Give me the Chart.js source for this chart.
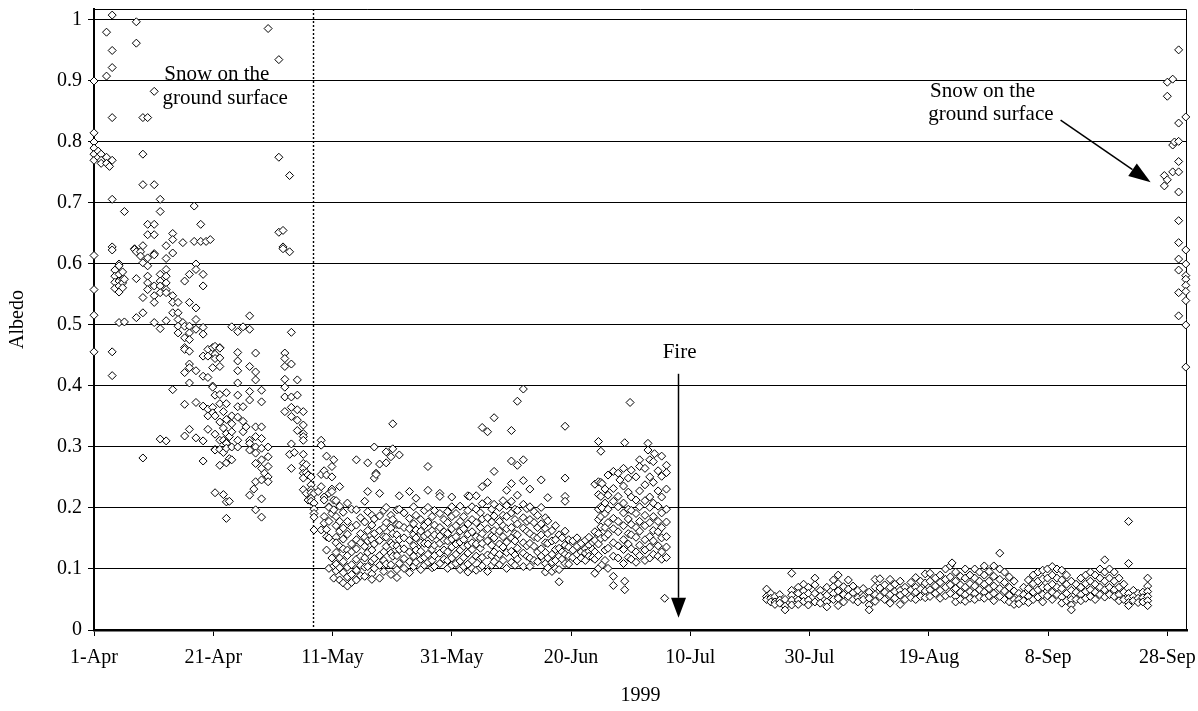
<!DOCTYPE html>
<html>
<head>
<meta charset="utf-8">
<title>Albedo 1999</title>
<script src="https://cdn.jsdelivr.net/npm/chart.js@4.4.1/dist/chart.umd.min.js"></script>
<style>
  html, body { margin: 0; padding: 0; background: #fff; }
  #albedoChart { display: block; }
</style>
</head>
<body>
<canvas id="albedoChart" width="1198" height="711"></canvas>
<script>
// x = days since 1 April 1999, y = albedo
// each group: [day, value, value, ...]
const aprilSnow = [
  [0.0, 0.90, 0.815, 0.80, 0.79, 0.78, 0.77, 0.614, 0.558, 0.516, 0.456],
  [0.7, 0.785, 0.775],
  [1.2, 0.78, 0.77, 0.765],
  [2.1, 0.98, 0.908, 0.775, 0.765],
  [2.6, 0.76],
  [3.05, 1.008, 0.95, 0.922, 0.84, 0.77, 0.706, 0.628, 0.623, 0.456, 0.417],
  [3.5, 0.59, 0.58, 0.57, 0.56],
  [4.2, 0.60, 0.597, 0.583, 0.572, 0.564, 0.554, 0.504],
  [4.8, 0.587, 0.575, 0.569, 0.561],
  [5.1, 0.686, 0.575, 0.505],
  [6.8, 0.625, 0.624],
  [7.1, 0.997, 0.962, 0.62, 0.576, 0.512],
  [7.8, 0.62, 0.613],
  [8.2, 0.84, 0.78, 0.73, 0.63, 0.602, 0.545, 0.52, 0.282],
  [9.0, 0.84, 0.665, 0.648, 0.61, 0.597, 0.58, 0.569, 0.558],
  [10.1, 0.883, 0.73, 0.665, 0.648, 0.617, 0.615, 0.564, 0.548, 0.537, 0.504],
  [11.1, 0.706, 0.686, 0.583, 0.572, 0.564, 0.553, 0.494, 0.313],
  [12.1, 0.63, 0.609, 0.591, 0.58, 0.569, 0.558, 0.553, 0.507, 0.31],
  [13.2, 0.65, 0.64, 0.618, 0.548, 0.537, 0.52, 0.394],
  [14.1, 0.537, 0.52, 0.509, 0.498, 0.487],
  [14.9, 0.635, 0.504],
  [15.2, 0.572, 0.498, 0.479, 0.463, 0.46, 0.422, 0.37, 0.318],
  [16.0, 0.583, 0.537, 0.498, 0.487, 0.476, 0.457, 0.436, 0.43, 0.405, 0.329],
  [16.8, 0.695, 0.637],
  [17.1, 0.60, 0.591, 0.528, 0.509, 0.493, 0.425, 0.373, 0.315],
  [17.9, 0.665, 0.637],
  [18.3, 0.583, 0.564, 0.496, 0.485, 0.449, 0.416, 0.367, 0.31, 0.277],
  [18.8, 0.637],
  [19.1, 0.46, 0.449, 0.414, 0.362, 0.351, 0.329],
  [19.5, 0.64],
  [19.9, 0.463, 0.43, 0.40, 0.398, 0.365, 0.356],
  [20.3, 0.465, 0.452, 0.445, 0.385, 0.351, 0.321, 0.296, 0.295, 0.225],
  [21.1, 0.463, 0.462, 0.446, 0.432, 0.386, 0.371, 0.341, 0.311, 0.296, 0.27],
  [21.7, 0.358, 0.331, 0.311, 0.291, 0.222],
  [22.2, 0.389, 0.371, 0.345, 0.322, 0.307, 0.306, 0.298, 0.274, 0.21, 0.183],
  [22.7, 0.317, 0.281, 0.211],
  [23.1, 0.497, 0.351, 0.338, 0.325, 0.30, 0.279],
  [24.1, 0.489, 0.455, 0.441, 0.425, 0.405, 0.385, 0.366, 0.349, 0.311, 0.30],
  [25.0, 0.497, 0.366, 0.342, 0.325],
  [25.5, 0.333],
  [26.1, 0.515, 0.493, 0.432, 0.391, 0.377, 0.311, 0.306, 0.295, 0.221],
  [26.8, 0.231],
  [27.1, 0.454, 0.423, 0.41, 0.333, 0.317, 0.30, 0.29, 0.273, 0.243, 0.197],
  [28.1, 0.393, 0.374, 0.333, 0.314, 0.298, 0.279, 0.265, 0.246, 0.215, 0.185],
  [28.6, 0.257],
  [29.2, 0.986, 0.30, 0.284, 0.268, 0.251, 0.243],
  [31.0, 0.935, 0.775, 0.652],
  [31.7, 0.655, 0.628, 0.625],
  [32.0, 0.454, 0.445, 0.432, 0.411, 0.398, 0.382, 0.358],
  [32.8, 0.745, 0.62, 0.288],
  [33.1, 0.488, 0.436, 0.382, 0.365, 0.35, 0.305, 0.265],
  [33.6, 0.291],
  [34.1, 0.41, 0.385, 0.361, 0.344, 0.327],
  [35.1, 0.358, 0.336, 0.322, 0.317, 0.311, 0.288, 0.273, 0.265, 0.257, 0.249, 0.23],
  [35.6, 0.271, 0.258, 0.224],
  [35.9, 0.254, 0.213],
  [36.4, 0.251, 0.238, 0.23, 0.225, 0.216, 0.211],
  [36.9, 0.224, 0.208, 0.198, 0.191, 0.185, 0.164],
  [37.6, 0.227],
  [38.1, 0.311, 0.303, 0.255, 0.235, 0.164],
  [38.6, 0.261, 0.218, 0.213, 0.186, 0.175],
  [39.0, 0.285, 0.254, 0.165, 0.153, 0.131],
  [39.4, 0.224, 0.202, 0.201, 0.178, 0.151, 0.101],
  [39.9, 0.268, 0.251, 0.231, 0.227, 0.191, 0.118],
  [40.2, 0.279, 0.213, 0.197, 0.105, 0.085]
];

const summerBeforeFire = [
  [40.6, 0.212, 0.186, 0.171, 0.152, 0.143, 0.127, 0.108, 0.097],
  [41.2, 0.235, 0.203, 0.178, 0.162, 0.137, 0.118, 0.102, 0.082],
  [41.8, 0.193, 0.167, 0.149, 0.133, 0.112, 0.094, 0.077],
  [42.5, 0.208, 0.178, 0.157, 0.131, 0.122, 0.103, 0.087, 0.072],
  [43.2, 0.198, 0.168, 0.141, 0.128, 0.107, 0.091, 0.078],
  [44.0, 0.279, 0.197, 0.172, 0.148, 0.133, 0.116, 0.098, 0.082],
  [44.7, 0.184, 0.158, 0.143, 0.121, 0.106, 0.089],
  [45.4, 0.211, 0.177, 0.152, 0.137, 0.118, 0.103, 0.088],
  [45.9, 0.274, 0.227, 0.194, 0.163, 0.146, 0.127, 0.104],
  [46.6, 0.188, 0.172, 0.148, 0.131, 0.113, 0.092, 0.083],
  [47.0, 0.30, 0.249, 0.182, 0.158, 0.141, 0.117, 0.101],
  [47.3, 0.257, 0.255],
  [47.9, 0.272, 0.224, 0.187, 0.163, 0.147, 0.122, 0.106, 0.085],
  [48.6, 0.196, 0.168, 0.153, 0.128, 0.114, 0.096],
  [49.0, 0.292, 0.274, 0.201, 0.176, 0.152, 0.137, 0.108],
  [49.8, 0.284, 0.188, 0.167, 0.143, 0.126, 0.107, 0.091],
  [50.1, 0.338, 0.297, 0.181, 0.158, 0.139, 0.121],
  [50.8, 0.197, 0.173, 0.156, 0.138, 0.122, 0.099, 0.086],
  [51.2, 0.287, 0.22, 0.198, 0.172, 0.148, 0.132, 0.109],
  [52.0, 0.192, 0.168, 0.151, 0.133, 0.117, 0.101],
  [52.9, 0.227, 0.183, 0.166, 0.147, 0.128, 0.112, 0.094],
  [53.6, 0.202, 0.174, 0.157, 0.138, 0.121, 0.104],
  [54.0, 0.216, 0.188, 0.164, 0.151, 0.131, 0.111],
  [54.8, 0.181, 0.162, 0.143, 0.129, 0.116, 0.099],
  [55.4, 0.196, 0.171, 0.154, 0.142, 0.119, 0.106],
  [56.0, 0.268, 0.229, 0.201, 0.177, 0.158, 0.141, 0.124, 0.111],
  [56.7, 0.186, 0.163, 0.152, 0.132, 0.114, 0.102],
  [57.1, 0.196, 0.172, 0.156, 0.139, 0.122, 0.104],
  [58.0, 0.224, 0.219, 0.191, 0.168, 0.154, 0.142, 0.126, 0.109],
  [58.7, 0.181, 0.161, 0.147, 0.131, 0.116],
  [59.3, 0.194, 0.176, 0.158, 0.146, 0.128, 0.114, 0.101],
  [60.0, 0.218, 0.202, 0.186, 0.166, 0.149, 0.136, 0.118, 0.106],
  [60.7, 0.191, 0.171, 0.153, 0.141, 0.124, 0.109],
  [61.4, 0.203, 0.178, 0.162, 0.144, 0.131, 0.113, 0.099],
  [62.0, 0.186, 0.166, 0.148, 0.137, 0.119, 0.104],
  [62.7, 0.22, 0.196, 0.174, 0.157, 0.139, 0.126, 0.108, 0.095],
  [63.0, 0.219],
  [63.4, 0.202, 0.181, 0.161, 0.143, 0.132, 0.114, 0.101],
  [64.1, 0.22, 0.198, 0.176, 0.153, 0.141, 0.121, 0.098],
  [64.8, 0.192, 0.168, 0.151, 0.134, 0.117, 0.102],
  [65.1, 0.332, 0.235, 0.207, 0.182, 0.158, 0.142, 0.119, 0.105],
  [66.0, 0.325, 0.242, 0.212, 0.184, 0.166, 0.146, 0.123, 0.096],
  [66.7, 0.198, 0.177, 0.154, 0.139, 0.122, 0.106],
  [67.1, 0.348, 0.26, 0.206, 0.187, 0.163, 0.151, 0.128, 0.112],
  [68.0, 0.201, 0.178, 0.162, 0.141, 0.124, 0.107],
  [68.6, 0.212, 0.188, 0.171, 0.153, 0.136, 0.114],
  [69.2, 0.229, 0.204, 0.186, 0.166, 0.144, 0.127, 0.101],
  [70.0, 0.327, 0.277, 0.24, 0.211, 0.192, 0.168, 0.151, 0.129, 0.111],
  [70.6, 0.198, 0.181, 0.158, 0.146, 0.123, 0.106],
  [71.0, 0.375, 0.27, 0.221, 0.196, 0.174, 0.156, 0.134, 0.116],
  [72.0, 0.395, 0.279, 0.245, 0.206, 0.184, 0.167, 0.143, 0.126, 0.104],
  [72.6, 0.199, 0.178, 0.162, 0.138, 0.121],
  [73.1, 0.231, 0.202, 0.181, 0.158, 0.142, 0.118, 0.104],
  [73.8, 0.194, 0.176, 0.153, 0.137, 0.114],
  [74.4, 0.188, 0.168, 0.151, 0.128, 0.112],
  [75.0, 0.246, 0.201, 0.174, 0.156, 0.133, 0.121],
  [75.7, 0.184, 0.166, 0.143, 0.127, 0.109, 0.095],
  [76.1, 0.217, 0.179, 0.158, 0.142, 0.118, 0.102],
  [76.8, 0.163, 0.146, 0.124, 0.111, 0.096],
  [77.4, 0.171, 0.148, 0.132, 0.114, 0.101],
  [78.0, 0.156, 0.134, 0.121, 0.099, 0.079],
  [78.5, 0.151, 0.128, 0.116],
  [79.0, 0.334, 0.249, 0.219, 0.211, 0.162, 0.139, 0.124, 0.109],
  [79.6, 0.148, 0.136, 0.121, 0.108],
  [80.3, 0.146, 0.131, 0.119],
  [81.0, 0.151, 0.137, 0.124, 0.113],
  [81.7, 0.142, 0.128, 0.118],
  [82.4, 0.147, 0.133, 0.126, 0.114],
  [83.0, 0.152, 0.139, 0.129, 0.121],
  [83.6, 0.144, 0.132, 0.119],
  [84.0, 0.239, 0.161, 0.147, 0.128, 0.116, 0.093],
  [84.6, 0.309, 0.243, 0.222, 0.198, 0.181, 0.158, 0.141, 0.122, 0.101],
  [85.0, 0.293, 0.242, 0.219, 0.202, 0.186, 0.169, 0.15],
  [85.2, 0.24, 0.2, 0.107],
  [85.7, 0.231, 0.208, 0.191, 0.168, 0.152, 0.131, 0.114],
  [86.2, 0.254, 0.221, 0.198, 0.176, 0.157, 0.134, 0.101],
  [87.1, 0.26, 0.232, 0.211, 0.183, 0.166, 0.143, 0.121, 0.088, 0.073],
  [87.9, 0.257, 0.219, 0.202, 0.178, 0.161, 0.138, 0.118],
  [88.2, 0.246],
  [88.8, 0.265, 0.236, 0.208, 0.192, 0.171, 0.148, 0.132, 0.109],
  [89.0, 0.307, 0.08, 0.066],
  [89.6, 0.249, 0.226, 0.198, 0.182, 0.158, 0.141, 0.119],
  [89.9, 0.373],
  [90.1, 0.262, 0.218, 0.196, 0.173, 0.156, 0.133, 0.116],
  [90.9, 0.251, 0.213, 0.191, 0.168, 0.152, 0.128, 0.111],
  [91.5, 0.279, 0.268, 0.228, 0.202, 0.178, 0.162, 0.139, 0.122],
  [92.4, 0.265, 0.238, 0.212, 0.188, 0.171, 0.148, 0.131, 0.114],
  [92.9, 0.306, 0.295],
  [93.2, 0.279, 0.251, 0.218, 0.201, 0.176, 0.153, 0.136, 0.118],
  [93.8, 0.276, 0.242, 0.208, 0.186, 0.163, 0.146, 0.124],
  [94.0, 0.289],
  [94.6, 0.261, 0.228, 0.203, 0.178, 0.161, 0.138, 0.121],
  [95.2, 0.285, 0.252, 0.218, 0.192, 0.168, 0.151, 0.128, 0.116],
  [95.7, 0.052],
  [96.0, 0.27, 0.258, 0.231, 0.198, 0.177, 0.153, 0.136, 0.119]
];

const afterFire = [
  [112.8, 0.067, 0.055, 0.05],
  [113.5, 0.06, 0.052, 0.046],
  [114.2, 0.055, 0.046, 0.042],
  [115.0, 0.058, 0.049, 0.044],
  [115.9, 0.05, 0.039, 0.033],
  [117.0, 0.093, 0.065, 0.057, 0.049, 0.041],
  [118.1, 0.07, 0.06, 0.049, 0.042],
  [119.0, 0.075, 0.064, 0.055, 0.047],
  [119.8, 0.07, 0.06, 0.049, 0.041],
  [120.9, 0.085, 0.074, 0.06, 0.046],
  [121.8, 0.065, 0.055, 0.044],
  [122.9, 0.07, 0.057, 0.046, 0.038],
  [124.0, 0.082, 0.071, 0.06, 0.05],
  [124.8, 0.09, 0.076, 0.064, 0.052, 0.04],
  [125.7, 0.071, 0.058, 0.046],
  [126.5, 0.082, 0.067, 0.055],
  [127.3, 0.072, 0.061, 0.05],
  [128.1, 0.065, 0.053, 0.046],
  [129.0, 0.068, 0.055, 0.05],
  [130.0, 0.062, 0.052, 0.041, 0.033],
  [131.0, 0.083, 0.07, 0.058, 0.047],
  [131.8, 0.084, 0.069, 0.055],
  [132.6, 0.074, 0.062, 0.05],
  [133.5, 0.083, 0.07, 0.058, 0.044],
  [134.3, 0.075, 0.063, 0.052],
  [135.2, 0.08, 0.065, 0.057, 0.042],
  [136.0, 0.07, 0.062, 0.05],
  [137.0, 0.078, 0.066, 0.053],
  [137.8, 0.086, 0.07, 0.062, 0.05],
  [138.6, 0.08, 0.067, 0.055],
  [139.4, 0.092, 0.077, 0.064, 0.053],
  [140.2, 0.093, 0.08, 0.066, 0.055],
  [141.1, 0.085, 0.072, 0.06],
  [141.9, 0.09, 0.078, 0.065, 0.052],
  [142.8, 0.1, 0.083, 0.07, 0.056],
  [143.6, 0.105, 0.087, 0.074, 0.06],
  [143.9, 0.11],
  [144.5, 0.095, 0.08, 0.068, 0.055, 0.046],
  [145.3, 0.088, 0.074, 0.062, 0.05],
  [146.1, 0.1, 0.085, 0.07, 0.058, 0.047],
  [146.9, 0.09, 0.076, 0.063, 0.052],
  [147.7, 0.1, 0.085, 0.072, 0.06, 0.05],
  [148.5, 0.095, 0.08, 0.066, 0.054],
  [149.3, 0.105, 0.09, 0.075, 0.062, 0.052],
  [150.1, 0.096, 0.08, 0.068, 0.056],
  [150.9, 0.105, 0.088, 0.072, 0.06, 0.048],
  [151.9, 0.126, 0.1, 0.083, 0.068, 0.055],
  [152.7, 0.095, 0.078, 0.064, 0.05],
  [153.5, 0.087, 0.07, 0.057, 0.046],
  [154.3, 0.08, 0.064, 0.05, 0.042],
  [155.1, 0.06, 0.05, 0.043],
  [155.9, 0.07, 0.058, 0.048],
  [156.7, 0.082, 0.068, 0.055, 0.045],
  [157.5, 0.09, 0.076, 0.062, 0.05],
  [158.3, 0.095, 0.08, 0.066, 0.054],
  [159.1, 0.098, 0.084, 0.07, 0.058, 0.046],
  [159.9, 0.1, 0.085, 0.07, 0.056],
  [160.7, 0.104, 0.09, 0.075, 0.062, 0.05],
  [161.5, 0.1, 0.085, 0.07, 0.058],
  [162.3, 0.098, 0.082, 0.068, 0.054, 0.044],
  [163.1, 0.09, 0.075, 0.06, 0.048],
  [163.9, 0.08, 0.065, 0.05, 0.041, 0.033],
  [164.7, 0.075, 0.062, 0.05],
  [165.5, 0.085, 0.07, 0.058, 0.048],
  [166.3, 0.09, 0.076, 0.063, 0.052],
  [167.1, 0.095, 0.08, 0.066, 0.055],
  [167.9, 0.09, 0.075, 0.062, 0.05],
  [168.7, 0.1, 0.085, 0.07, 0.058],
  [169.5, 0.115, 0.095, 0.08, 0.066, 0.054],
  [170.3, 0.1, 0.085, 0.07, 0.058],
  [171.1, 0.095, 0.08, 0.066, 0.055],
  [171.9, 0.085, 0.07, 0.058, 0.048],
  [172.7, 0.075, 0.062, 0.05],
  [173.5, 0.178, 0.109, 0.06, 0.052, 0.045, 0.04],
  [174.3, 0.065, 0.055, 0.048],
  [175.1, 0.06, 0.052, 0.045],
  [175.9, 0.062, 0.053, 0.046],
  [176.7, 0.085, 0.072, 0.063, 0.055, 0.048, 0.04]
];

const lateSeptemberSnow = [
  [179.5, 0.745, 0.728],
  [180.0, 0.898, 0.875, 0.738],
  [180.9, 0.903, 0.795, 0.751],
  [181.2, 0.80],
  [181.9, 0.951, 0.831, 0.801, 0.768, 0.751, 0.718, 0.671, 0.635, 0.608, 0.59, 0.553, 0.515],
  [183.1, 0.841, 0.623, 0.60, 0.581, 0.575, 0.565, 0.555, 0.54, 0.50, 0.431]
];

const xTicks = [0, 20, 40, 60, 80, 100, 120, 140, 160, 180];
const yTicks = [0, 0.1, 0.2, 0.3, 0.4, 0.5, 0.6, 0.7, 0.8, 0.9, 1];
const monthNames = ['Jan', 'Feb', 'Mar', 'Apr', 'May', 'Jun', 'Jul', 'Aug', 'Sep', 'Oct', 'Nov', 'Dec'];

// annotation anchors, in data units
const snowMeltDay = 36.7;
const fireDay = 97.9;

const serif = "'Liberation Serif', 'Times New Roman', serif";

function toPoints(groups) {
  return groups.flatMap(g => g.slice(1).map(v => ({ x: g[0], y: v })));
}

function dayLabel(day) {
  const d = new Date(1999, 3, 1 + day);
  return d.getDate() + '-' + monthNames[d.getMonth()];
}

function drawArrow(ctx, x0, y0, x1, y1, headLen, headWidth) {
  const ang = Math.atan2(y1 - y0, x1 - x0);
  const bx = x1 - headLen * Math.cos(ang);
  const by = y1 - headLen * Math.sin(ang);
  ctx.beginPath();
  ctx.moveTo(x0, y0);
  ctx.lineTo(bx, by);
  ctx.stroke();
  ctx.beginPath();
  ctx.moveTo(x1, y1);
  ctx.lineTo(bx + headWidth / 2 * Math.sin(ang), by - headWidth / 2 * Math.cos(ang));
  ctx.lineTo(bx - headWidth / 2 * Math.sin(ang), by + headWidth / 2 * Math.cos(ang));
  ctx.closePath();
  ctx.fill();
}

const notesPlugin = {
  id: 'albedoNotes',
  beforeDatasetsDraw(chart) {
    const { ctx, chartArea: a, scales: { x } } = chart;
    ctx.save();
    ctx.strokeStyle = '#000';
    ctx.lineWidth = 1;
    // top and right edge of the plot frame
    ctx.beginPath();
    ctx.moveTo(a.left, a.top + 0.5);
    ctx.lineTo(a.right - 0.5, a.top + 0.5);
    ctx.lineTo(a.right - 0.5, a.bottom);
    ctx.stroke();
    // dotted line: end of snow cover
    const xd = Math.round(x.getPixelForValue(snowMeltDay)) + 0.5;
    ctx.lineWidth = 1.4;
    ctx.setLineDash([2, 2]);
    ctx.beginPath();
    ctx.moveTo(xd, a.top);
    ctx.lineTo(xd, a.bottom);
    ctx.stroke();
    ctx.restore();
  },
  afterDatasetsDraw(chart) {
    const { ctx, scales: { x, y } } = chart;
    ctx.save();
    ctx.fillStyle = '#000';
    ctx.strokeStyle = '#000';
    ctx.font = '21px ' + serif;
    ctx.textBaseline = 'middle';
    ctx.textAlign = 'left';
    ctx.fillText('Snow on the', x.getPixelForValue(11.8), y.getPixelForValue(0.91));
    ctx.fillText('ground surface', x.getPixelForValue(11.5), y.getPixelForValue(0.871));
    ctx.fillText('Snow on the', x.getPixelForValue(140.2), y.getPixelForValue(0.883));
    ctx.fillText('ground surface', x.getPixelForValue(139.9), y.getPixelForValue(0.845));
    ctx.textAlign = 'center';
    ctx.fillText('Fire', x.getPixelForValue(fireDay + 0.3), y.getPixelForValue(0.455));

    ctx.lineWidth = 1.5;
    const fx = Math.round(x.getPixelForValue(fireDay)) + 0.5;
    drawArrow(ctx, fx, y.getPixelForValue(0.42), fx, y.getPixelForValue(0.02), 20, 15);
    drawArrow(ctx, x.getPixelForValue(162.1), y.getPixelForValue(0.836),
      x.getPixelForValue(177.2), y.getPixelForValue(0.734), 22, 15);
    ctx.restore();
  }
};

const allPoints = [
  ...toPoints(aprilSnow),
  ...toPoints(summerBeforeFire),
  ...toPoints(afterFire),
  ...toPoints(lateSeptemberSnow)
];

const ctx = document.getElementById('albedoChart').getContext('2d');
const albedoChart = new Chart(ctx, {
  type: 'scatter',
  data: {
    datasets: [{
      label: 'Albedo',
      data: allPoints,
      pointStyle: 'rectRot',
      pointRadius: 4,
      pointBorderWidth: 1,
      pointBackgroundColor: '#fff',
      pointBorderColor: '#000',
      clip: false
    }]
  },
  options: {
    responsive: false,
    animation: false,
    layout: { padding: { top: 9, right: 11, left: 0, bottom: 0 } },
    plugins: {
      legend: { display: false },
      tooltip: { enabled: false }
    },
    scales: {
      x: {
        type: 'linear',
        min: 0,
        max: 183.3,
        afterFit: s => { s.height = 81; s.paddingLeft = 0; s.paddingRight = 0; },
        afterBuildTicks: s => { s.ticks = xTicks.map(v => ({ value: v })); },
        ticks: {
          color: '#000',
          font: { family: serif, size: 20 },
          padding: 10,
          maxRotation: 0,
          callback: v => dayLabel(v)
        },
        grid: { drawOnChartArea: false, color: '#000', tickLength: 6 },
        border: { display: true, color: '#000', width: 2.5 },
        title: {
          display: true,
          text: '1999',
          color: '#000',
          font: { family: serif, size: 20 },
          padding: { top: 0, bottom: 3 }
        }
      },
      y: {
        min: 0,
        max: 1.018,
        afterFit: s => { s.width = 94; s.paddingTop = 0; s.paddingBottom = 0; },
        afterBuildTicks: s => { s.ticks = yTicks.map(v => ({ value: v })); },
        ticks: {
          color: '#000',
          font: { family: serif, size: 20 },
          padding: 6,
          callback: v => String(Math.round(v * 10) / 10)
        },
        grid: { color: '#000', lineWidth: 1, tickLength: 6 },
        border: { display: true, color: '#000', width: 2 },
        title: {
          display: true,
          text: 'Albedo',
          color: '#000',
          font: { family: serif, size: 20 },
          padding: { top: 6, bottom: 0 }
        }
      }
    }
  },
  plugins: [notesPlugin]
});
</script>
</body>
</html>
